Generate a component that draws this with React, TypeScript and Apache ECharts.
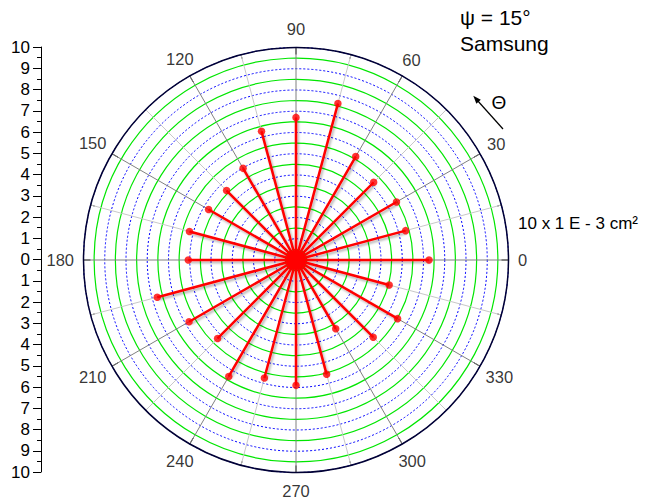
import React, { useEffect, useRef } from "react";
import * as echarts from "echarts";

const angles = [0, 15, 30, 45, 60, 75, 90, 105, 120, 135, 150, 165, 180, 195, 210, 225, 240, 255, 270, 285, 300, 315, 330, 345];
const values = [6.26, 5.34, 5.46, 5.17, 5.62, 7.62, 6.71, 6.27, 4.98, 4.62, 4.75, 5.19, 5.07, 6.76, 5.81, 5.22, 6.33, 5.75, 5.9, 5.57, 3.74, 5.14, 5.52, 4.54];
const angleTicks = [0, 30, 60, 90, 120, 150, 180, 210, 240, 270, 300, 330];
const radialMax = 10;

const FONT = "Arial, 'Liberation Sans', sans-serif";
const ANGLE_FONT = 16.5;

export default function App() {
  const ref = useRef<HTMLDivElement>(null);
  useEffect(() => {
    if (!ref.current) return;
    document.body.style.margin = "0";
    const chart = echarts.init(ref.current, undefined, { renderer: "svg" });
    const spokeData: number[][] = [];
    angles.forEach((a, i) => {
      spokeData.push([0, a]);
      spokeData.push([values[i], a]);
    });
    const tips = angles.map((a, i) => [values[i], a]);
    // angle labels placed just outside the outer circle, centred, with a gap
    const labelData = angleTicks.map((a) => {
      const t = (a * Math.PI) / 180;
      const w = String(a).length * ANGLE_FONT * 0.556;
      const hw = w / 2;
      const hh = 9;
      const d = 9.5 + Math.sqrt(Math.pow(Math.cos(t) * hw, 2) + Math.pow(Math.sin(t) * hh, 2));
      return {
        value: [radialMax, a],
        label: { offset: [Math.cos(t) * d, -Math.sin(t) * d] },
      };
    });
    chart.setOption({
      animation: false,
      backgroundColor: "#fff",
      polar: { center: [296, 260], radius: 212.5 },
      angleAxis: {
        type: "value",
        min: 0,
        max: 360,
        interval: 30,
        startAngle: 0,
        clockwise: false,
        axisLine: { show: true, lineStyle: { color: "#000033", width: 1.5 } },
        axisTick: { show: true, inside: true, length: 7, lineStyle: { color: "#000", width: 1 } },
        minorTick: { show: true, splitNumber: 2, length: 4, lineStyle: { color: "#000", width: 1 } },
        axisLabel: { show: false },
        splitLine: { show: true, lineStyle: { color: "#808080", width: 1 } },
        minorSplitLine: { show: true, lineStyle: { color: "#c8c8c8", width: 1 } },
      },
      radiusAxis: {
        type: "value",
        min: 0,
        max: radialMax,
        interval: 1,
        axisLine: { show: false },
        axisTick: { show: false },
        axisLabel: { show: false },
        minorTick: { show: false, splitNumber: 2 },
        splitLine: { show: true, lineStyle: { color: "#0000ff", width: 1, type: [2, 2] } },
        minorSplitLine: { show: true, lineStyle: { color: "#00e600", width: 1.2 } },
      },
      grid: { left: 41, top: 47, width: 10, height: 425 },
      xAxis: { type: "value", show: false, min: 0, max: 1 },
      yAxis: {
        type: "value",
        min: -radialMax,
        max: radialMax,
        interval: 1,
        position: "left",
        axisLine: { show: true, lineStyle: { color: "#000", width: 1 } },
        axisTick: { show: true, length: 8, lineStyle: { color: "#000" } },
        minorTick: { show: true, splitNumber: 2, length: 4, lineStyle: { color: "#000" } },
        splitLine: { show: false },
        axisLabel: {
          margin: 11,
          fontSize: 17,
          color: "#000",
          fontFamily: FONT,
          formatter: (v: number) => String(Math.abs(v)),
        },
      },
      series: [
        {
          type: "line",
          coordinateSystem: "polar",
          data: spokeData,
          showSymbol: false,
          symbol: "none",
          lineStyle: {
            color: "#ff0000",
            width: 2.5,
            shadowColor: "rgba(0,0,0,0.3)",
            shadowBlur: 2,
            shadowOffsetX: 1.5,
            shadowOffsetY: 2,
          },
          z: 3,
        },
        {
          type: "scatter",
          coordinateSystem: "polar",
          data: tips,
          symbol: "circle",
          symbolSize: 7.5,
          itemStyle: { color: "#ff0000" },
          z: 4,
        },
        {
          type: "scatter",
          coordinateSystem: "polar",
          data: labelData,
          symbol: "circle",
          symbolSize: 1,
          clip: false,
          silent: true,
          itemStyle: { color: "rgba(0,0,0,0)" },
          label: {
            show: true,
            position: "inside",
            fontSize: ANGLE_FONT,
            color: "#000",
            fontFamily: FONT,
            formatter: (p: any) => String(p.value[1]),
          },
          z: 5,
        },
      ],
      graphic: [
        { type: "text", left: 460, top: 7, style: { text: "ψ = 15°", fontSize: 21, fill: "#000", fontFamily: FONT } },
        { type: "text", left: 460, top: 33, style: { text: "Samsung", fontSize: 21, fill: "#000", fontFamily: FONT } },
        { type: "text", x: 499, y: 102, style: { text: "Θ", fontSize: 19, fill: "#000", fontFamily: FONT, align: "center", verticalAlign: "middle" } },
        { type: "line", shape: { x1: 503, y1: 129, x2: 477, y2: 100 }, style: { stroke: "#000", lineWidth: 1.2 } },
        { type: "polygon", shape: { points: [[473.3, 95.7], [480.8, 99.7], [476.4, 103.7]] }, style: { fill: "#000" } },
        { type: "text", x: 518, y: 223, style: { text: "10 x 1 E - 3 cm²", fontSize: 17, fill: "#000", fontFamily: FONT, verticalAlign: "middle" } },
      ],
    });
    return () => chart.dispose();
  }, []);
  return <div ref={ref} style={{ width: 645, height: 499 }} />;
}
